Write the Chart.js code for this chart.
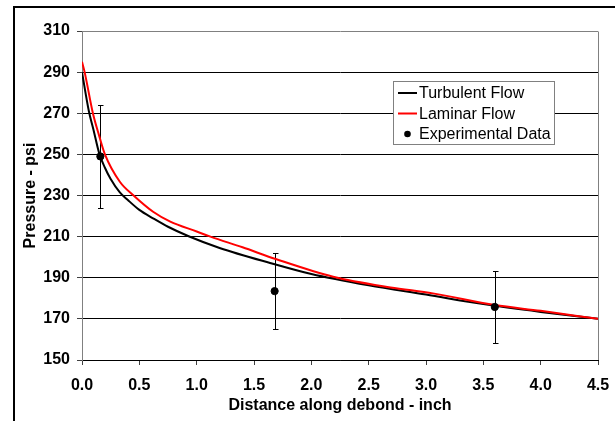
<!DOCTYPE html>
<html>
<head>
<meta charset="utf-8">
<script src="https://cdn.jsdelivr.net/npm/chart.js@4.4.0/dist/chart.umd.min.js"></script>
<style>
  html, body { margin: 0; padding: 0; background: #fff; }
  #wrap { width: 615px; height: 421px; position: relative; }
</style>
</head>
<body>
<div id="wrap"><canvas id="chart" width="615" height="421"></canvas></div>
<script>
// curves
const turbX = [0, 0.06, 0.1, 0.15, 0.2, 0.25, 0.33, 0.4, 0.5, 0.62, 0.75, 0.93, 1.2, 1.64, 2.0, 2.5, 3.0, 3.5, 4.0, 4.5];
const turbP = [290, 271, 262, 250.5, 243.5, 238, 231.5, 227.8, 223, 218.9, 214.8, 210.2, 204.5, 197.2, 191.8, 186.3, 181.8, 177.2, 173.4, 170];
const lamX = [0, 0.023, 0.095, 0.15, 0.2, 0.33, 0.45, 0.62, 0.77, 1.0, 1.12, 1.4, 1.69, 2.19, 2.69, 3.06, 3.6, 4.0, 4.5];
const lamP = [295, 290, 270, 259, 250, 236.7, 230, 222.1, 217.3, 212.5, 210, 204.8, 199.1, 190.5, 185.3, 182.4, 176.7, 173.9, 170];

// experimental points with error bars
const expX = [0.16, 1.68, 3.6];
const expP = [249, 183.5, 175.8];
const expErr = [25, 18.5, 17.6];

const yTicks = [150, 170, 190, 210, 230, 250, 270, 290, 310];
const xTicks = [0, 0.5, 1, 1.5, 2, 2.5, 3, 3.5, 4, 4.5];

const legendItems = ["Turbulent Flow", "Laminar Flow", "Experimental Data"];

function pts(xs, ys) {
  return xs.map((x, i) => ({ x: x, y: ys[i] }));
}

const frame = {
  id: "frame",
  beforeDraw(chart) {
    const c = chart.ctx;
    c.save();
    c.fillStyle = "#fff";
    c.fillRect(0, 0, chart.width, chart.height);
    c.strokeStyle = "#000";
    c.lineWidth = 2;
    c.strokeRect(14, 7, 800, 600);
    c.restore();
  },
  beforeDatasetsDraw(chart) {
    // error bars go under the dots
    const c = chart.ctx;
    const xs = chart.scales.x, ys = chart.scales.y;
    c.save();
    c.strokeStyle = "#000";
    c.lineWidth = 1;
    for (let i = 0; i < expX.length; i++) {
      const px = Math.round(xs.getPixelForValue(expX[i])) + 0.5;
      const top = Math.round(ys.getPixelForValue(expP[i] + expErr[i])) + 0.5;
      const bot = Math.round(ys.getPixelForValue(expP[i] - expErr[i])) + 0.5;
      c.beginPath();
      c.moveTo(px, top); c.lineTo(px, bot);
      c.moveTo(px - 2.5, top); c.lineTo(px + 3, top);
      c.moveTo(px - 2.5, bot); c.lineTo(px + 3, bot);
      c.stroke();
    }
    c.restore();
  },
  afterDraw(chart) {
    const c = chart.ctx;
    const a = chart.chartArea;
    c.save();
    // right border of the plot
    c.strokeStyle = "#808080";
    c.lineWidth = 1;
    c.beginPath();
    c.moveTo(Math.round(a.right) + 0.5, Math.round(a.top) + 0.5);
    c.lineTo(Math.round(a.right) + 0.5, Math.round(a.bottom));
    c.stroke();

    // legend box
    const bx = 393.5, by = 81.5, bw = 161, bh = 63;
    c.fillStyle = "#fff";
    c.fillRect(bx, by, bw, bh);
    c.strokeStyle = "#808080";
    c.strokeRect(bx, by, bw, bh);
    c.font = "16px 'Liberation Sans', Arial, sans-serif";
    c.textBaseline = "middle";
    c.fillStyle = "#000";
    const rows = [93, 113.5, 134];
    c.strokeStyle = "#000"; c.lineWidth = 2;
    c.beginPath(); c.moveTo(398, rows[0]); c.lineTo(417, rows[0]); c.stroke();
    c.strokeStyle = "#ff0000";
    c.beginPath(); c.moveTo(398, rows[1]); c.lineTo(417, rows[1]); c.stroke();
    c.beginPath(); c.arc(407.5, rows[2], 3.3, 0, Math.PI * 2); c.fill();
    for (let i = 0; i < legendItems.length; i++) {
      c.fillText(legendItems[i], 419, rows[i] + 1);
    }
    c.restore();
  }
};

const tickFont = { family: "'Liberation Sans', Arial, sans-serif", size: 16, weight: "bold" };

new Chart(document.getElementById("chart"), {
  type: "line",
  data: {
    datasets: [
      {
        label: legendItems[2],
        type: "scatter",
        data: pts(expX, expP),
        backgroundColor: "#000",
        borderColor: "#000",
        pointRadius: 3.6,
        pointHoverRadius: 3.6,
        showLine: false,
        order: 0
      },
      {
        label: legendItems[1],
        data: pts(lamX, lamP),
        borderColor: "#ff0000",
        borderWidth: 2,
        pointRadius: 0,
        fill: false,
        cubicInterpolationMode: "monotone",
        order: 1
      },
      {
        label: legendItems[0],
        data: pts(turbX, turbP),
        borderColor: "#000",
        borderWidth: 2,
        pointRadius: 0,
        fill: false,
        cubicInterpolationMode: "monotone",
        order: 2
      }
    ]
  },
  options: {
    responsive: false,
    animation: false,
    events: [],
    layout: { padding: { left: 0, top: 31, right: 17, bottom: 0 } },
    plugins: { legend: { display: false }, tooltip: { enabled: false } },
    scales: {
      x: {
        type: "linear",
        min: 0,
        max: 4.5,
        afterFit: s => { s.height = 61; s.paddingLeft = 0; s.paddingRight = 0; },
        afterBuildTicks: s => { s.ticks = xTicks.map(v => ({ value: v })); },
        ticks: {
          color: "#000",
          font: tickFont,
          padding: 11,
          maxRotation: 0,
          callback: v => v.toFixed(1)
        },
        grid: { drawOnChartArea: false, tickLength: 5, tickColor: "#404040" },
        border: { color: "#000", width: 1 },
        title: {
          display: true,
          text: "Distance along debond - inch",
          color: "#000",
          font: tickFont,
          padding: { top: 0, bottom: 6 }
        }
      },
      y: {
        min: 150,
        max: 310,
        afterFit: s => { s.width = 82; s.paddingTop = 0; s.paddingBottom = 0; },
        afterBuildTicks: s => { s.ticks = yTicks.map(v => ({ value: v })); },
        ticks: { color: "#000", font: tickFont, padding: 7 },
        grid: {
          tickLength: 5,
          tickColor: "#404040",
          color: c => (c.tick && c.tick.value === 310 ? "#808080" : "#000")
        },
        border: { color: "#808080", width: 1 },
        title: {
          display: true,
          text: "Pressure - psi",
          color: "#000",
          font: tickFont,
          padding: { top: 21, bottom: 0 }
        }
      }
    }
  },
  plugins: [frame]
});
</script>
</body>
</html>
